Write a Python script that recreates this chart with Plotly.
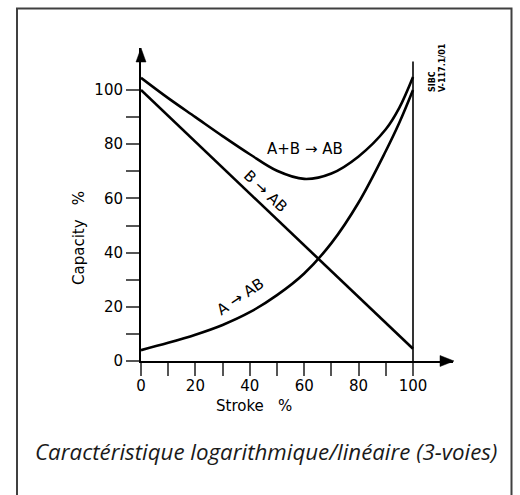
import plotly.graph_objects as go

# Curve data (stroke % vs capacity %)
stroke = [0, 10, 20, 30, 40, 50, 60, 70, 80, 90, 95, 100]
a_to_ab = [4, 6.7, 9.7, 13.3, 18, 24.3, 32.3, 43.5, 58.5, 77.5, 88, 100]
ab_total = [104.5, 97, 90, 83, 76.3, 70.2, 67.2, 69.2, 75.5, 85.5, 93.5, 104.8]
stroke_lin = [0, 100]
b_to_ab = [100, 4.5]

tick_vals = [0, 10, 20, 30, 40, 50, 60, 70, 80, 90, 100]
tick_text = ["0", "", "20", "", "40", "", "60", "", "80", "", "100"]

W, H = 520, 495
L, R, T, B = 141, 67, 48, 134
PW, PH = W - L - R, H - T - B
XMAX = PW / 2.72
YMAX = PH / 2.71


def px(xp):
    return (xp - L) / PW


def py(yp):
    return (H - B - yp) / PH


FONT = "DejaVu Sans"
line = dict(color="black", width=2.6)


def label(text, x, y, size=14, angle=0, family=FONT, color="black"):
    return dict(text=text, xref="paper", yref="paper", x=px(x), y=py(y), textangle=angle,
                xanchor="center", yanchor="middle", showarrow=False,
                font=dict(family=family, size=size, color=color))


fig = go.Figure()
fig.add_trace(go.Scatter(x=stroke, y=ab_total, mode="lines", line=dict(line, shape="spline", smoothing=1),
                         cliponaxis=False, hoverinfo="skip"))
fig.add_trace(go.Scatter(x=stroke, y=a_to_ab, mode="lines", line=dict(line, shape="spline", smoothing=1),
                         cliponaxis=False, hoverinfo="skip"))
fig.add_trace(go.Scatter(x=stroke_lin, y=b_to_ab, mode="lines", line=line,
                         cliponaxis=False, hoverinfo="skip"))

axis_common = dict(
    tickmode="array", tickvals=tick_vals, ticktext=tick_text,
    ticks="outside", ticklen=13, tickwidth=1.5, tickcolor="#555",
    showgrid=False, zeroline=False, showline=True, linecolor="black", linewidth=2,
    tickfont=dict(family=FONT, size=15, color="black"), fixedrange=True,
)

fig.update_layout(
    width=W, height=H, margin=dict(l=L, r=R, t=T, b=B),
    paper_bgcolor="white", plot_bgcolor="white", showlegend=False,
    xaxis=dict(axis_common, range=[0, XMAX], ticklabelstandoff=-3),
    yaxis=dict(axis_common, range=[0, YMAX], ticklabelstandoff=0),
    shapes=[
        # outer frame
        dict(type="rect", xref="paper", yref="paper", x0=px(17), x1=px(511.5), y0=py(505), y1=py(8.5),
             line=dict(color="#404040", width=2)),
        # right-hand limit line at 100 % stroke
        dict(type="line", xref="x", yref="y", x0=100, x1=100, y0=0, y1=110.5,
             line=dict(color="black", width=1.6)),
        # axis arrowheads
        dict(type="path", xref="paper", yref="paper", xsizemode="pixel", ysizemode="pixel",
             xanchor=1, yanchor=0, path="M 1,0 L -13,5.5 L -13,-5.5 Z",
             fillcolor="black", line=dict(color="black", width=0.5)),
        dict(type="path", xref="paper", yref="paper", xsizemode="pixel", ysizemode="pixel",
             xanchor=0, yanchor=1, path="M 0,0 L -5,-14 L 5,-14 Z",
             fillcolor="black", line=dict(color="black", width=0.5)),
    ],
    annotations=[
        label("Capacity\u00a0\u00a0\u00a0%", 79, 238, size=15, angle=-90),
        label("Stroke\u00a0\u00a0\u00a0%", 254, 406, size=15),
        label("A+B → AB", 305, 149, size=15),
        label("B → AB", 265, 191, size=15, angle=43.5),
        label("A → AB", 240, 297, size=15, angle=-34),
        dict(text="<b>SIBC</b><br><b>V-117.1/01</b>", xref="paper", yref="paper", x=px(437), y=py(68),
             textangle=-90, showarrow=False, align="left", xanchor="center", yanchor="middle",
             font=dict(family=FONT, size=8, color="black")),
        label("<i>Caractéristique logarithmique/linéaire (3-voies)</i>", 266, 452,
              size=22.3, family="Open Sans", color="#1a1a1a"),
    ],
)

fig.write_html("out.html")
